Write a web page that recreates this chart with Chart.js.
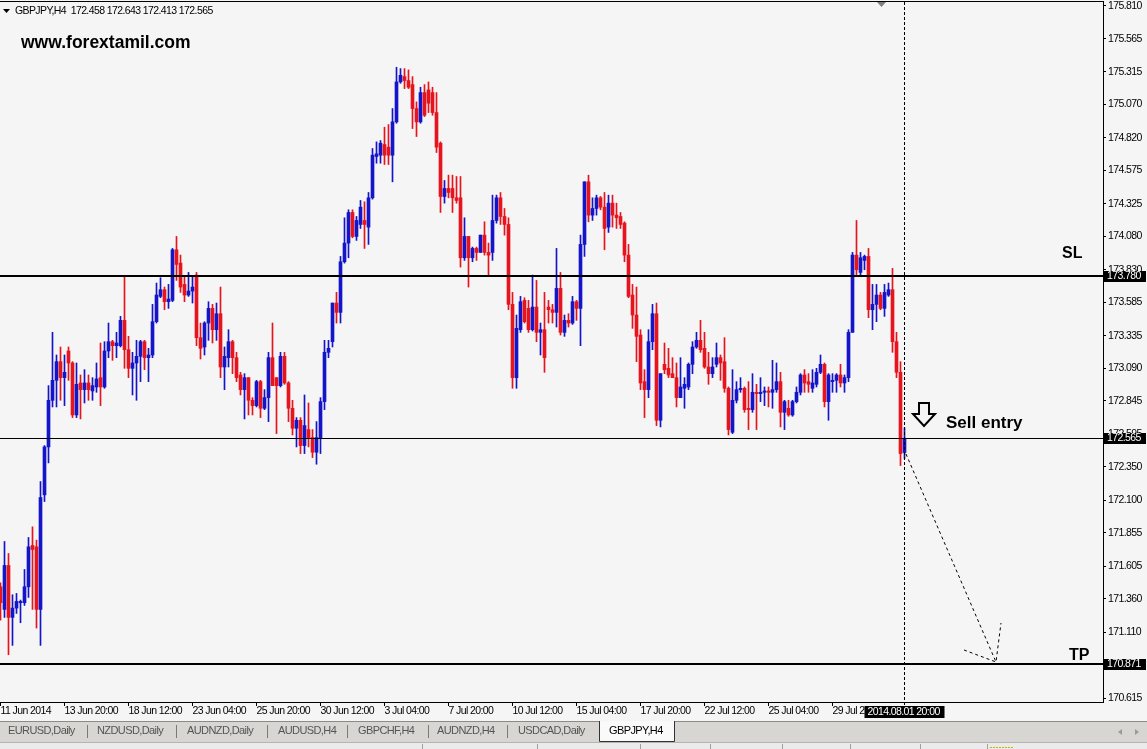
<!DOCTYPE html>
<html>
<head>
<meta charset="utf-8">
<title>GBPJPY,H4</title>
<script src="https://cdn.jsdelivr.net/npm/chart.js@4.4.1/dist/chart.umd.min.js"></script>
<style>
    html, body { margin: 0; padding: 0; background: #f5f5f5; }
    #wrap { width: 1147px; height: 749px; }
</style>
</head>
<body>
<div id="wrap"><canvas id="chart" width="1147" height="749"></canvas></div>
<script>
const symbol = "GBPJPY,H4";
const lastBarTime = "2014.08.01 20:00";

const open = [
    171.45, 171.28, 171.61, 171.22, 171.29, 171.33, 171.33, 171.45, 171.76, 171.75,
    171.28, 172.14, 172.50, 172.85, 173.00, 173.14, 173.02, 173.22, 173.13, 172.74,
    172.98, 172.93, 172.98, 172.92, 172.95, 173.02, 172.95, 173.22, 173.29, 173.26,
    173.26, 173.45, 173.23, 173.09, 173.13, 173.18, 173.29, 173.17, 173.19, 173.44,
    173.63, 173.68, 173.59, 173.60, 173.98, 173.88, 173.72, 173.64, 173.67, 173.79,
    173.32, 173.25, 173.43, 173.54, 173.38, 173.50, 173.10, 173.17, 173.29, 173.17,
    173.04, 172.93, 173.02, 172.85, 172.81, 172.99, 172.79, 172.87, 173.17, 173.02,
    172.96, 173.18, 172.98, 172.79, 172.64, 172.70, 172.51, 172.63, 172.57, 172.46,
    172.57, 172.84, 173.21, 173.29, 173.58, 173.51, 173.89, 174.03, 174.26, 174.08,
    174.17, 174.20, 174.15, 174.37, 174.68, 174.69, 174.77, 174.75, 174.69, 174.94,
    175.24, 175.28, 175.25, 175.22, 175.04, 174.94, 175.16, 175.18, 175.16, 175.01,
    174.78, 174.38, 174.44, 174.44, 174.37, 174.37, 173.92, 174.08, 173.92, 173.99,
    173.96, 174.09, 173.96, 173.96, 174.20, 174.37, 174.23, 174.17, 173.57, 173.02,
    173.38, 173.60, 173.54, 173.38, 173.55, 173.36, 173.38, 173.55, 173.53, 173.51,
    173.69, 173.36, 173.45, 173.43, 173.59, 173.54, 174.02, 174.49, 174.24, 174.29,
    174.37, 174.30, 174.15, 174.33, 174.24, 174.23, 174.18, 173.94, 173.64, 173.49,
    173.34, 172.99, 172.93, 173.29, 173.50, 172.70, 173.12, 173.09, 173.05, 173.02,
    172.87, 172.94, 172.95, 173.12, 173.25, 173.30, 173.24, 173.10, 173.05, 173.12,
    173.17, 173.14, 172.94, 172.61, 172.85, 172.93, 172.94, 172.79, 172.78, 172.91,
    172.90, 172.91, 172.92, 172.91, 172.93, 172.99, 172.76, 172.79, 172.74, 172.84,
    172.91, 173.04, 172.99, 172.94, 172.97, 173.06, 173.12, 172.84, 172.99, 173.00,
    173.04, 172.98, 173.02, 173.36, 173.94, 173.81, 173.90, 173.93, 173.53, 173.57,
    173.64, 173.54, 173.64, 173.68, 173.29, 173.06, 172.458
];
const high = [
    171.48, 171.79, 171.70, 171.39, 171.40, 171.35, 171.58, 171.82, 171.90, 171.80,
    172.24, 172.51, 172.96, 173.36, 173.19, 173.25, 173.19, 173.25, 173.14, 173.13,
    173.04, 173.08, 173.04, 173.02, 173.13, 173.28, 173.29, 173.43, 173.30, 173.36,
    173.48, 173.78, 173.33, 173.21, 173.30, 173.30, 173.30, 173.24, 173.57, 173.73,
    173.77, 173.70, 173.72, 173.99, 174.08, 173.94, 173.78, 173.81, 173.78, 173.81,
    173.43, 173.44, 173.59, 173.57, 173.58, 173.70, 173.25, 173.38, 173.30, 173.21,
    173.06, 173.05, 173.02, 172.87, 173.00, 173.00, 172.93, 173.21, 173.43, 173.02,
    173.21, 173.21, 172.99, 172.85, 172.72, 172.72, 172.89, 172.83, 172.63, 172.69,
    172.87, 173.30, 173.30, 173.58, 173.66, 173.93, 174.22, 174.28, 174.28, 174.23,
    174.35, 174.34, 174.41, 174.74, 174.79, 174.80, 174.90, 174.92, 175.04, 175.35,
    175.34, 175.34, 175.33, 175.28, 175.09, 175.20, 175.22, 175.24, 175.20, 175.16,
    174.79, 174.50, 174.54, 174.54, 174.53, 174.53, 174.22, 174.08, 174.00, 174.00,
    174.09, 174.19, 174.03, 174.39, 174.39, 174.41, 174.29, 174.22, 173.66, 173.49,
    173.63, 173.62, 173.60, 173.79, 173.75, 173.43, 173.66, 173.60, 173.57, 173.99,
    173.81, 173.49, 173.50, 173.63, 173.60, 174.09, 174.49, 174.54, 174.37, 174.39,
    174.38, 174.41, 174.39, 174.39, 174.33, 174.26, 174.19, 174.02, 173.72, 173.70,
    173.38, 173.08, 173.38, 173.57, 173.58, 173.05, 173.28, 173.24, 173.17, 173.13,
    173.17, 173.02, 173.13, 173.29, 173.36, 173.45, 173.36, 173.21, 173.17, 173.28,
    173.19, 173.32, 172.95, 173.08, 172.99, 173.02, 172.95, 172.99, 173.05, 172.97,
    173.02, 172.95, 172.95, 173.15, 173.13, 173.06, 172.85, 172.85, 172.85, 172.95,
    173.05, 173.08, 173.05, 173.08, 173.09, 173.19, 173.13, 173.05, 173.05, 173.05,
    173.12, 173.04, 173.38, 173.96, 174.20, 173.96, 173.94, 173.99, 173.72, 173.72,
    173.66, 173.72, 173.73, 173.84, 173.36, 173.14, 172.643
];
const low = [
    171.20, 171.22, 170.94, 171.01, 171.25, 171.18, 171.31, 171.37, 171.28, 171.14,
    171.01, 172.09, 172.38, 172.80, 172.80, 172.85, 172.81, 173.00, 172.72, 172.72,
    172.71, 172.83, 172.85, 172.85, 172.91, 172.81, 172.94, 173.17, 173.15, 173.17,
    173.25, 173.09, 173.02, 172.89, 172.85, 172.99, 173.08, 172.99, 173.17, 173.43,
    173.62, 173.53, 173.54, 173.59, 173.75, 173.66, 173.59, 173.63, 173.58, 173.26,
    173.16, 173.19, 173.30, 173.28, 173.30, 173.02, 172.93, 173.10, 173.05, 172.99,
    172.89, 172.71, 172.74, 172.74, 172.80, 172.72, 172.78, 172.69, 172.96, 172.60,
    172.95, 172.97, 172.69, 172.59, 172.50, 172.45, 172.45, 172.50, 172.42, 172.37,
    172.45, 172.78, 173.17, 173.25, 173.43, 173.43, 173.88, 173.92, 174.07, 174.05,
    174.14, 173.99, 174.02, 174.36, 174.63, 174.63, 174.62, 174.62, 174.49, 174.93,
    175.23, 175.19, 175.19, 174.89, 174.83, 174.93, 174.98, 175.01, 174.99, 174.71,
    174.26, 174.33, 174.37, 174.26, 174.33, 173.85, 173.90, 173.70, 173.89, 173.90,
    173.96, 173.94, 173.79, 173.90, 174.18, 174.17, 174.09, 173.53, 172.94, 172.94,
    173.36, 173.43, 173.36, 173.37, 173.29, 173.19, 173.06, 173.43, 173.43, 173.40,
    173.34, 173.33, 173.40, 173.42, 173.45, 173.26, 173.93, 174.19, 174.20, 174.24,
    174.28, 173.98, 174.11, 174.15, 174.14, 174.14, 173.89, 173.62, 173.39, 173.14,
    172.93, 172.72, 172.87, 173.23, 172.66, 172.65, 173.05, 173.02, 173.02, 172.80,
    172.87, 172.79, 172.93, 173.05, 173.24, 173.21, 173.09, 172.97, 173.02, 173.10,
    173.00, 172.91, 172.59, 172.60, 172.83, 172.91, 172.76, 172.63, 172.76, 172.63,
    172.84, 172.81, 172.80, 172.79, 172.91, 172.65, 172.63, 172.73, 172.73, 172.83,
    172.89, 172.91, 172.91, 172.91, 172.95, 173.05, 172.80, 172.70, 172.91, 172.91,
    172.95, 172.91, 172.99, 173.36, 173.79, 173.79, 173.83, 173.47, 173.38, 173.44,
    173.53, 173.48, 173.63, 173.21, 173.02, 172.36, 172.413
];
const close = [
    171.33, 171.61, 171.22, 171.29, 171.34, 171.34, 171.45, 171.75, 171.73, 171.28,
    172.12, 172.50, 172.85, 173.00, 173.14, 173.02, 173.06, 173.13, 172.74, 172.97,
    172.93, 172.98, 172.93, 172.96, 173.01, 172.95, 173.22, 173.29, 173.26, 173.28,
    173.45, 173.23, 173.09, 173.13, 173.18, 173.29, 173.17, 173.19, 173.44, 173.64,
    173.68, 173.59, 173.61, 173.98, 173.87, 173.70, 173.64, 173.67, 173.70, 173.32,
    173.24, 173.43, 173.54, 173.38, 173.50, 173.10, 173.18, 173.29, 173.17, 173.02,
    172.93, 173.02, 172.85, 172.81, 172.99, 172.79, 172.87, 173.17, 172.96, 172.96,
    173.18, 172.98, 172.79, 172.64, 172.70, 172.51, 172.66, 172.57, 172.46, 172.57,
    172.84, 173.21, 173.24, 173.58, 173.51, 173.89, 174.03, 174.26, 174.08, 174.20,
    174.30, 174.17, 174.37, 174.69, 174.70, 174.78, 174.69, 174.69, 174.94, 175.24,
    175.29, 175.25, 175.20, 175.04, 174.94, 175.16, 174.99, 175.08, 175.01, 174.75,
    174.38, 174.44, 174.41, 174.37, 174.35, 173.92, 174.08, 173.92, 173.99, 173.96,
    174.09, 173.96, 173.94, 174.20, 174.37, 174.23, 174.17, 173.57, 173.02, 173.39,
    173.59, 173.44, 173.38, 173.55, 173.36, 173.38, 173.17, 173.53, 173.51, 173.69,
    173.36, 173.45, 173.43, 173.59, 173.54, 174.02, 174.49, 174.24, 174.29, 174.37,
    174.30, 174.14, 174.33, 174.24, 174.22, 174.17, 173.94, 173.63, 173.49, 173.33,
    172.98, 172.93, 173.29, 173.50, 172.70, 173.05, 173.08, 173.04, 173.02, 172.87,
    172.95, 172.97, 173.12, 173.25, 173.30, 173.23, 173.10, 173.05, 173.10, 173.17,
    173.13, 172.94, 172.63, 172.85, 172.93, 172.94, 172.78, 172.78, 172.91, 172.90,
    172.91, 172.92, 172.91, 172.93, 172.99, 172.76, 172.84, 172.74, 172.84, 172.91,
    173.04, 172.98, 172.97, 172.98, 173.06, 173.12, 172.84, 173.04, 173.00, 173.04,
    172.98, 173.02, 173.36, 173.94, 173.83, 173.92, 173.93, 173.53, 173.57, 173.64,
    173.54, 173.66, 173.68, 173.29, 173.06, 172.45, 172.565
];

const xTickIdx = [0, 16, 32, 48, 64, 80, 96, 112, 128, 144, 160, 176, 192, 208];
const xTickLabels = ["11 Jun 2014", "13 Jun 20:00", "18 Jun 12:00", "23 Jun 04:00", "25 Jun 20:00",
    "30 Jun 12:00", "3 Jul 04:00", "7 Jul 20:00", "10 Jul 12:00", "15 Jul 04:00",
    "17 Jul 20:00", "22 Jul 12:00", "25 Jul 04:00", "29 Jul 20:00"];
const yTicks = [175.810, 175.565, 175.315, 175.070, 174.820, 174.575, 174.325, 174.080,
    173.830, 173.585, 173.335, 173.090, 172.845, 172.595, 172.350, 172.100,
    171.855, 171.605, 171.360, 171.110, 170.865, 170.615];

const levelPrices = [173.780, 172.565, 170.871];
const levelNames = ["SL", "Sell entry", "TP"];
const tabNames = ["EURUSD,Daily", "NZDUSD,Daily", "AUDNZD,Daily", "AUDUSD,H4", "GBPCHF,H4", "AUDNZD,H4", "USDCAD,Daily", "GBPJPY,H4"];

const BG = '#f5f5f5';
const UP = '#1414c8';
const DOWN = '#e6141c';
const UI = '"Liberation Sans", Arial, sans-serif';
const UI_SIZE = 10.5;
const UI_SPACING = '-0.6px';

const idx = open.map((_, i) => i);
const barColors = idx.map(i => close[i] >= open[i] ? UP : DOWN);

// extra drawing: levels, labels, arrow, tab bar
const mt4Plugin = {
    id: 'mt4',
    beforeDraw(chart) {
        const g = chart.ctx;
        g.save();
        g.fillStyle = BG;
        g.fillRect(0, 0, chart.width, chart.height);
        g.restore();
        // tighter text so the axis labels read like the terminal font
        g.letterSpacing = UI_SPACING;
    },
    afterDraw(chart) {
        const g = chart.ctx;
        const a = chart.chartArea;
        const xs = chart.scales.x;
        const ys = chart.scales.y;
        g.save();

        // frame
        g.fillStyle = '#000';
        g.fillRect(a.left, a.top - 1, a.right - a.left + 1, 1);
        g.fillRect(a.right, a.top - 1, 1, a.bottom - a.top + 2);
        g.fillRect(a.left, a.bottom, a.right - a.left + 1, 1);

        // shift marker
        g.fillStyle = '#808080';
        g.beginPath();
        g.moveTo(877, a.top); g.lineTo(886, a.top); g.lineTo(881.5, a.top + 5);
        g.closePath(); g.fill();

        // level lines
        const widths = [2, 1, 2];
        levelPrices.forEach((p, k) => {
            const y = Math.round(ys.getPixelForValue(p));
            g.fillStyle = '#000';
            g.fillRect(a.left, y - (widths[k] > 1 ? 1 : 0), a.right - a.left, widths[k]);
        });

        // vertical dashed line at the last bar
        const lx = xs.getPixelForValue(open.length - 1);
        g.strokeStyle = '#000';
        g.lineWidth = 1;
        g.setLineDash([3, 2]);
        g.beginPath();
        g.moveTo(lx, a.top); g.lineTo(lx, a.bottom + 4);
        g.stroke();

        // dashed target arrow
        g.setLineDash([3, 3]);
        g.beginPath();
        g.moveTo(906, 454); g.lineTo(996, 662);
        g.moveTo(964, 650); g.lineTo(996, 662); g.lineTo(1001, 623);
        g.stroke();
        g.setLineDash([]);

        // hollow down arrow
        g.lineWidth = 2;
        g.beginPath();
        g.moveTo(919, 403); g.lineTo(929, 403); g.lineTo(929, 414); g.lineTo(935, 414);
        g.lineTo(924, 426); g.lineTo(913, 414); g.lineTo(919, 414);
        g.closePath();
        g.stroke();

        // level names
        g.letterSpacing = '0px';
        g.fillStyle = '#000';
        g.textBaseline = 'alphabetic';
        g.textAlign = 'left';
        g.font = 'bold 16px "Liberation Sans", Arial, sans-serif';
        g.fillText(levelNames[0], 1062, 258);
        g.font = 'bold 17px "Liberation Sans", Arial, sans-serif';
        g.fillText(levelNames[1], 946, 428);
        g.font = 'bold 16px "Liberation Sans", Arial, sans-serif';
        g.fillText(levelNames[2], 1069, 660);

        g.font = 'bold 17.5px "Liberation Sans", Arial, sans-serif';
        g.fillText('www.forextamil.com', 21, 48);

        // price boxes on the axis
        g.letterSpacing = UI_SPACING;
        g.font = UI_SIZE + 'px ' + UI;
        g.textBaseline = 'middle';
        levelPrices.forEach(p => {
            const y = Math.round(ys.getPixelForValue(p));
            g.fillStyle = '#000';
            g.fillRect(a.right, y - 5, 43, 11);
            g.fillStyle = '#fff';
            g.fillText(p.toFixed(3), a.right + 4, y + 0.5);
        });

        // last bar time box
        g.fillStyle = '#000';
        g.fillRect(lx - 40, a.bottom + 4, 80, 12);
        g.fillStyle = '#fff';
        g.fillText(lastBarTime, lx - 37, a.bottom + 10.5);

        // header
        const last = open.length - 1;
        g.fillStyle = '#000';
        g.beginPath();
        g.moveTo(3, 9); g.lineTo(10, 9); g.lineTo(6.5, 13);
        g.closePath(); g.fill();
        g.fillText(symbol + '  ' + [open[last], high[last], low[last], close[last]].map(v => v.toFixed(3)).join(' '), 15, 11);

        // tab bar
        g.fillStyle = '#d8d6d2';
        g.fillRect(0, 721, chart.width, 21);
        g.fillStyle = '#8a8a8a';
        g.fillRect(0, 721, chart.width, 1);
        g.fillStyle = '#ebebeb';
        g.fillRect(0, 742, chart.width, 7);
        g.fillStyle = '#b4b4b4';
        g.fillRect(0, 742, chart.width, 1);

        const tabX = [8, 97, 187, 278, 358, 437, 518];
        const sepX = [87, 176, 267, 347, 428, 507];
        g.textBaseline = 'middle';
        g.font = '11px ' + UI;
        g.fillStyle = '#555';
        tabX.forEach((x, k) => g.fillText(tabNames[k], x, 731));
        g.fillStyle = '#7a7a7a';
        sepX.forEach(x => g.fillRect(x, 725, 1, 13));

        g.fillStyle = '#fafafa';
        g.fillRect(599, 721, 76, 20);
        g.strokeStyle = '#333';
        g.lineWidth = 1;
        g.beginPath();
        g.moveTo(599.5, 721); g.lineTo(599.5, 741.5); g.lineTo(674.5, 741.5); g.lineTo(674.5, 721);
        g.stroke();
        g.fillStyle = '#000';
        g.fillText(tabNames[7], 609, 731);

        // scroll arrows
        g.fillStyle = '#9a9a9a';
        g.beginPath();
        g.moveTo(1118, 732); g.lineTo(1122, 729); g.lineTo(1122, 735); g.closePath();
        g.moveTo(1139, 732); g.lineTo(1135, 729); g.lineTo(1135, 735); g.closePath();
        g.fill();

        // status bar separators
        g.fillStyle = '#a0a0a0';
        [422, 537, 640, 710, 782, 850, 920, 987].forEach(x => g.fillRect(x, 744, 1, 5));
        g.strokeStyle = '#c8b400';
        g.setLineDash([2, 1]);
        g.beginPath();
        g.moveTo(990, 747.5); g.lineTo(1013, 747.5);
        g.stroke();

        g.restore();
    }
};

const ctx = document.getElementById('chart').getContext('2d');
new Chart(ctx, {
    type: 'bar',
    data: {
        datasets: [
            {
                label: 'body',
                data: idx.map(i => ({ x: i, y: [open[i], close[i]] })),
                backgroundColor: barColors,
                borderWidth: 0,
                barThickness: 3,
                minBarLength: 1,
                grouped: false,
                order: 1
            },
            {
                label: 'wick',
                data: idx.map(i => ({ x: i, y: [low[i], high[i]] })),
                backgroundColor: barColors,
                borderWidth: 0,
                barThickness: 1,
                grouped: false,
                order: 2
            }
        ]
    },
    options: {
        responsive: false,
        animation: false,
        devicePixelRatio: 1,
        events: [],
        layout: { padding: { top: 2, left: 0, right: 0, bottom: 0 } },
        plugins: {
            legend: { display: false },
            tooltip: { enabled: false }
        },
        scales: {
            x: {
                type: 'linear',
                min: -0.125,
                max: 275.625,
                offset: false,
                afterBuildTicks: s => { s.ticks = xTickIdx.map(v => ({ value: v })); },
                afterFit: s => { s.height = 47; s.paddingLeft = 0; s.paddingRight = 0; },
                grid: { drawOnChartArea: false, tickLength: 4, color: '#000', offset: false },
                border: { display: false },
                ticks: {
                    align: 'start',
                    maxRotation: 0,
                    autoSkip: false,
                    padding: 0,
                    color: '#000',
                    font: { family: UI, size: UI_SIZE, lineHeight: 1 },
                    callback: (v, i) => xTickLabels[i]
                }
            },
            y: {
                position: 'right',
                min: 170.585,
                max: 175.84,
                afterBuildTicks: s => { s.ticks = yTicks.map(v => ({ value: v })); },
                afterFit: s => { s.width = 44; s.paddingTop = 0; s.paddingBottom = 0; },
                grid: { drawOnChartArea: false, tickLength: 3, color: '#000' },
                border: { display: false },
                ticks: {
                    crossAlign: 'near',
                    padding: 2,
                    autoSkip: false,
                    color: '#000',
                    font: { family: UI, size: UI_SIZE, lineHeight: 1 },
                    callback: v => v.toFixed(3)
                }
            }
        }
    },
    plugins: [mt4Plugin]
});
</script>
</body>
</html>
